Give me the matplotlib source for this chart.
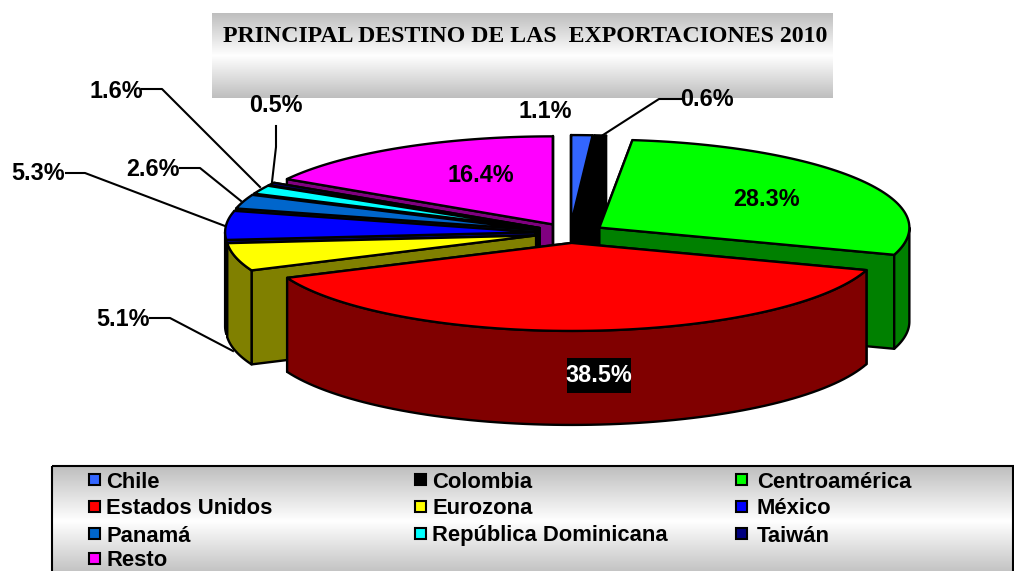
"""
Exports by destination 2010, exploded 3D style pie drawn by hand
"""
import numpy as np
from matplotlib import pyplot as plt
from matplotlib.colors import LinearSegmentedColormap
from matplotlib.patches import Polygon, Rectangle

# data
names = ["Chile", "Colombia", "Centroamérica", "Estados Unidos", "Eurozona",
         "México", "Panamá", "República Dominicana", "Taiwán", "Resto"]
values = [1.1, 0.6, 28.3, 38.5, 5.1, 5.3, 2.6, 1.6, 0.5, 16.4]
title = "PRINCIPAL DESTINO DE LAS  EXPORTACIONES 2010"

# colours
top_colors = ["#3366FF", "#000000", "#00FF00", "#FF0000", "#FFFF00",
              "#0000FF", "#0066CC", "#00FFFF", "#000080", "#FF00FF"]
wall_colors = ["#1A3380", "#000000", "#008000", "#800000", "#808000",
               "#000080", "#003366", "#008080", "#000040", "#800080"]

# pie geometry in pixels
cx, cy = 570, 233
rx, ry = 310, 88
depth = 94
explode = 35
draw_order = [9, 8, 7, 6, 5, 4, 0, 1, 2, 3]

# label centres and leader lines
label_pos = [(545, 112), (707, 100), (767, 199), (599, 376), (123, 319),
             (38, 174), (153, 169), (116, 91), (276, 106), (481, 175)]
leaders = {1: [(681, 99), (659, 99), (603, 135)],
           4: [(150, 318), (170, 318), (233, 351)],
           5: [(66, 173), (85, 173), (225, 226)],
           6: [(180, 168), (200, 168), (241, 201)],
           7: [(142, 89), (162, 89), (260, 187)],
           8: [(276, 126), (276, 147), (272, 182)]}

legend_cols = [88, 414, 735]
legend_text = [106, 432, 757]
legend_rows = [481, 508, 535, 560]

plt.rcParams['font.family'] = ['Liberation Sans', 'DejaVu Sans']
grey_cmap = LinearSegmentedColormap.from_list("band", ["#BEBEBE", "#FFFFFF", "#BEBEBE"])


def point(ox, oy, ang):
    # angle in degrees, clockwise from the top
    a = np.radians(ang)
    return ox + rx*np.sin(a), oy - ry*np.cos(a)


def band(ax, x0, x1, y0, y1, **kw):
    grad = np.linspace(0, 1, 256).reshape(-1, 1)
    ax.imshow(grad, extent=(x0, x1, y1, y0), cmap=grey_cmap, aspect="auto", zorder=1)
    ax.add_patch(Rectangle((x0, y0), x1-x0, y1-y0, fill=False, zorder=2, **kw))


def draw_slice(ax, ox, oy, a0, a1, top, wall, z):
    p0 = point(ox, oy, a0)
    p1 = point(ox, oy, a1)
    # radial walls, the one further front goes last
    for p in sorted([p0, p1], key=lambda q: q[1]):
        quad = [(ox, oy), p, (p[0], p[1]+depth), (ox, oy+depth)]
        ax.add_patch(Polygon(quad, fc=wall, ec="k", lw=1.7, joinstyle="round", zorder=z))
    # outer wall, front half only
    w0, w1 = max(a0, 90), min(a1, 270)
    if w1 > w0:
        ang = np.linspace(w0, w1, 80)
        xs, ys = point(ox, oy, ang)
        verts = np.r_[np.c_[xs, ys], np.c_[xs, ys+depth][::-1]]
        ax.add_patch(Polygon(verts, fc=wall, ec="k", lw=1.7, joinstyle="round", zorder=z))
    ang = np.linspace(a0, a1, 80)
    xs, ys = point(ox, oy, ang)
    verts = np.r_[[(ox, oy)], np.c_[xs, ys]]
    ax.add_patch(Polygon(verts, fc=top, ec="k", lw=1.7, joinstyle="round", zorder=z))


def main():
    fig = plt.figure(figsize=(10.14, 5.71), dpi=100)
    ax = fig.add_axes([0, 0, 1, 1])
    ax.set_xlim(0, 1014)
    ax.set_ylim(571, 0)
    ax.axis("off")

    # title band
    band(ax, 212, 833, 13, 98, lw=0)
    ax.text(525.5, 36, title, family="Liberation Serif", weight="bold", fontsize=17.2,
            ha="center", va="center", zorder=5)

    # slices
    edges = np.r_[0, np.cumsum(values)]*360/np.sum(values)
    for n, i in enumerate(draw_order):
        a0, a1 = edges[i], edges[i+1]
        mid = np.radians((a0+a1)/2)
        ox = cx + explode*np.sin(mid)
        oy = cy - explode*ry/rx*np.cos(mid)
        draw_slice(ax, ox, oy, a0, a1, top_colors[i], wall_colors[i], 10+n)

    # leader lines and value labels
    for i, pts in leaders.items():
        xs, ys = zip(*pts)
        ax.plot(xs, ys, color="k", lw=1.5, zorder=30)
    ax.add_patch(Rectangle((567, 358), 64, 35, fc="k", ec="none", zorder=30))
    for i, v in enumerate(values):
        color = "w" if names[i] == "Estados Unidos" else "k"
        ax.text(label_pos[i][0], label_pos[i][1], "%.1f%%" % v, weight="bold", fontsize=16.8,
                color=color, ha="center", va="center", zorder=31)

    # legend
    band(ax, 52, 1013, 466, 576, ec="k", lw=1.5)
    for i, name in enumerate(names):
        y = legend_rows[i//3]
        ax.add_patch(Rectangle((legend_cols[i % 3]+1, y-7), 11, 11, fc=top_colors[i], ec="k",
                               lw=1.5, zorder=6))
        ax.text(legend_text[i % 3], y+1, name, weight="bold", fontsize=15.8, ha="left",
                va="center", zorder=6)

    fig.savefig("out.png", dpi=100)


if __name__ == "__main__":
    main()
